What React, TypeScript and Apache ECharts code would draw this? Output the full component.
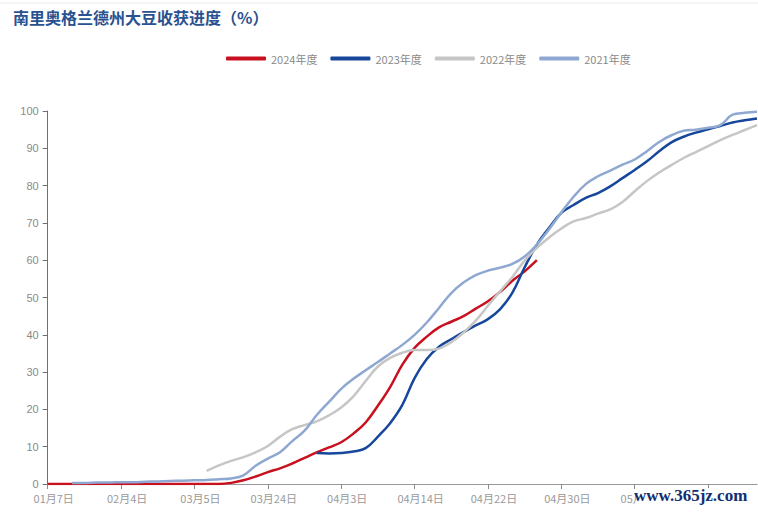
import React, { useEffect, useRef } from "react";
import * as echarts from "echarts";

const titleText = "南里奥格兰德州大豆收获进度（%）";
const seriesNames = ["2024年度", "2023年度", "2022年度", "2021年度"];
const seriesColors = ["#c8101e", "#17479a", "#c6c6c6", "#8fa8d2"];

const categories = [
  "01月7日", "01月11日", "01月16日", "01月20日", "01月25日", "01月30日",
  "02月4日", "02月9日", "02月14日", "02月19日", "02月24日", "02月29日",
  "03月5日", "03月8日", "03月11日", "03月14日", "03月17日", "03月20日",
  "03月24日", "03月26日", "03月28日", "03月29日", "03月31日", "04月1日",
  "04月3日", "04月5日", "04月7日", "04月9日", "04月11日", "04月12日",
  "04月14日", "04月15日", "04月17日", "04月18日", "04月19日", "04月21日",
  "04月22日", "04月23日", "04月25日", "04月26日", "04月27日", "04月29日",
  "04月30日", "05月1日", "05月3日", "05月4日", "05月5日", "05月7日",
  "05月8日", "05月9日", "05月11日", "05月12日", "05月13日", "05月15日",
  "05月16日", "05月17日", "05月19日", "05月20日", "05月21日",
];

const s2024 = [
  0, 0, 0, 0, 0, 0, 0, 0, 0, 0, 0, 0, 0, 0, 0,
  0.3, 1, 2, 3.2, 4.2, 5.5, 7, 8.5, 9.8, 11.2, 13.5, 16.5, 21, 26, 32,
  36.5, 39.5, 42, 43.5, 45, 47, 49, 51.5, 54.5, 57, 60,
];

const s2023 = [
  null, null, null, null, null, null, null, null, null, null, null,
  null, null, null, null, null, null, null, null, null, null, null,
  8.3, 8.2, 8.3, 8.7, 9.6, 12.7, 16.3, 21.2, 28.4, 33.5, 36.8, 38.8,
  40.7, 42.5, 44.2, 46.9, 51.3, 58.1, 64.2, 68.7, 72.7, 74.8, 76.7,
  78, 79.8, 82, 84.2, 86.5, 89.2, 91.6, 93.1, 94.2, 95.1, 96, 96.9,
  97.5, 98,
];

const s2022 = [
  null, null, null, null, null, null, null, null, null, null, null,
  null, null,
  3.5, 5, 6.2, 7.2, 8.5, 10.2, 12.7, 14.7, 15.8, 16.8, 18.4, 20.5,
  23.5, 27.6, 31.5, 33.8, 35.2, 35.9, 35.9, 36.3, 38, 40.6, 43.8,
  47.8, 51.7, 55.5, 59.9, 63.3, 66.1, 68.5, 70.4, 71.3, 72.5, 73.6,
  75.6, 78.5, 81.2, 83.5, 85.5, 87.4, 89, 90.6, 92.2, 93.6, 94.9,
  96.2,
];

const s2021 = [
  null, null,
  0.3, 0.3, 0.4, 0.4, 0.5, 0.5, 0.6, 0.7, 0.8, 0.9, 1, 1.1, 1.3,
  1.5, 2.3, 4.9, 6.8, 8.5, 11.5, 14.3, 18.5, 22, 25.5, 28.2, 30.5,
  32.7, 35, 37.3, 40, 43.3, 47.2, 51.2, 54, 56, 57.2, 58, 59, 61,
  64.2, 68.3, 72.8, 77, 80.4, 82.5, 84, 85.6, 87, 89.2, 91.7, 93.5,
  94.7, 95, 95.5, 96.2, 99, 99.5, 99.8,
];

const yTicks = { min: 0, max: 100, interval: 10 };

export default function App() {
  const ref = useRef<HTMLDivElement>(null);

  useEffect(() => {
    if (!ref.current) return;
    const chart = echarts.init(ref.current, null, { renderer: "svg" });
    const data = [s2024, s2023, s2022, s2021];
    chart.setOption({
      animation: false,
      backgroundColor: "#ffffff",
      title: {
        text: titleText,
        left: 8,
        top: 4,
        textStyle: {
          fontFamily: "Noto Sans CJK SC",
          fontSize: 16,
          fontWeight: "bold",
          color: "#2a5190",
        },
      },
      legend: {
        left: 221,
        top: 48,
        itemWidth: 40,
        itemHeight: 4,
        itemGap: 13,
        icon: "roundRect",
        textStyle: {
          fontFamily: "Noto Sans CJK SC",
          fontSize: 11,
          color: "#8a8a8a",
        },
        data: seriesNames,
      },
      grid: {
        left: 47.7,
        right: 1,
        top: 111,
        bottom: 29,
        containLabel: false,
      },
      xAxis: {
        type: "category",
        boundaryGap: false,
        data: categories,
        axisLine: { lineStyle: { color: "#9a9a9a", width: 1 } },
        axisTick: {
          interval: 5,
          length: 5,
          lineStyle: { color: "#8a8a8a" },
        },
        axisLabel: {
          interval: 5,
          fontFamily: "Noto Sans CJK SC",
          fontSize: 11,
          color: "#9a9a9a",
          margin: 8,
          padding: [0, 0, 0, 12],
        },
        splitLine: { show: false },
      },
      yAxis: {
        type: "value",
        min: yTicks.min,
        max: yTicks.max,
        interval: yTicks.interval,
        axisLine: { show: true, lineStyle: { color: "#707070", width: 1 } },
        axisTick: { show: true, length: 5, lineStyle: { color: "#707070" } },
        axisLabel: {
          fontFamily: "Liberation Sans",
          fontSize: 11,
          color: "#8a8a8a",
          margin: 9,
        },
        splitLine: { show: false },
      },
      series: seriesNames.map((name, i) => ({
        name,
        type: "line",
        data: data[i],
        smooth: 0.4,
        symbol: "none",
        connectNulls: false,
        lineStyle: { color: seriesColors[i], width: 2.5 },
        itemStyle: { color: seriesColors[i] },
      })),
      graphic: [
        {
          type: "line",
          shape: { x1: 0, y1: 3, x2: 758, y2: 3 },
          style: { stroke: "#ececec", lineWidth: 1 },
          silent: true,
        },
        {
          type: "rect",
          shape: { x: 636, y: 488, width: 120, height: 20 },
          style: { fill: "#ffffff" },
          z: 100,
          silent: true,
        },
        {
          type: "text",
          x: 634,
          y: 487,
          z: 101,
          style: {
            text: "www.365jz.com",
            fontFamily: "Liberation Serif",
            fontWeight: "bold",
            fontSize: 17,
            fill: "#0f2f72",
          },
          silent: true,
        },
      ],
    });
    return () => chart.dispose();
  }, []);

  return (
    <div
      ref={ref}
      style={{ position: "absolute", left: 0, top: 0, width: 758, height: 513 }}
    />
  );
}
